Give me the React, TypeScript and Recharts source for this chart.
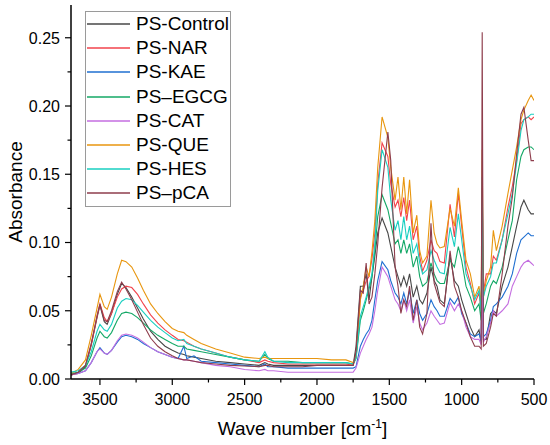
import React from 'react';
import { LineChart, Line, XAxis, YAxis, Legend } from 'recharts';

const wavenumbers = [
  3700, 3650, 3600, 3560, 3520, 3500, 3470, 3450, 3420, 3380,
  3350, 3320, 3280, 3240, 3200, 3150, 3100, 3050, 3000, 2960,
  2920, 2900, 2850, 2800, 2700, 2600, 2500, 2400, 2360, 2340,
  2300, 2200, 2100, 2000, 1900, 1800, 1750, 1730, 1700, 1680,
  1660, 1640, 1620, 1600, 1580, 1550, 1510, 1490, 1460, 1440,
  1420, 1400, 1380, 1360, 1335, 1310, 1290, 1270, 1240, 1212,
  1190, 1170, 1150, 1120, 1080, 1050, 1023, 1000, 970, 940,
  910, 880, 865, 858, 850, 830, 800, 781, 760, 720,
  680, 650, 620, 590, 570, 540, 520, 500,
];

const psControl = [
  0.003, 0.004, 0.009, 0.025, 0.045, 0.054, 0.042, 0.040, 0.048, 0.062,
  0.070, 0.067, 0.060, 0.052, 0.044, 0.035, 0.029, 0.024, 0.021, 0.019,
  0.018, 0.017, 0.016, 0.015, 0.013, 0.012, 0.011, 0.010, 0.012, 0.011,
  0.010, 0.010, 0.010, 0.010, 0.010, 0.010, 0.010, 0.024, 0.068, 0.068,
  0.077, 0.058, 0.075, 0.090, 0.107, 0.118, 0.107, 0.097, 0.082, 0.075,
  0.068, 0.075, 0.068, 0.077, 0.060, 0.068, 0.058, 0.055, 0.063, 0.082,
  0.072, 0.068, 0.058, 0.055, 0.090, 0.072, 0.068, 0.058, 0.048, 0.038,
  0.031, 0.036, 0.026, 0.100, 0.029, 0.029, 0.048, 0.050, 0.048, 0.068,
  0.082, 0.097, 0.112, 0.126, 0.131, 0.124, 0.121, 0.121,
];

const psNAR = [
  0.003, 0.005, 0.010, 0.025, 0.046, 0.055, 0.045, 0.042, 0.048, 0.060,
  0.066, 0.068, 0.067, 0.062, 0.055, 0.047, 0.041, 0.036, 0.032, 0.029,
  0.028, 0.027, 0.024, 0.022, 0.019, 0.016, 0.014, 0.012, 0.014, 0.013,
  0.012, 0.011, 0.011, 0.011, 0.011, 0.011, 0.010, 0.016, 0.060, 0.065,
  0.072, 0.075, 0.088, 0.107, 0.143, 0.173, 0.163, 0.143, 0.126, 0.131,
  0.119, 0.133, 0.116, 0.131, 0.102, 0.112, 0.090, 0.079, 0.087, 0.102,
  0.094, 0.092, 0.086, 0.085, 0.128, 0.104, 0.136, 0.112, 0.082, 0.070,
  0.055, 0.063, 0.050, 0.140, 0.063, 0.077, 0.077, 0.090, 0.087, 0.102,
  0.126, 0.141, 0.160, 0.187, 0.190, 0.192, 0.190, 0.192,
];

const psKAE = [
  0.004, 0.004, 0.006, 0.012, 0.020, 0.023, 0.019, 0.018, 0.021, 0.027,
  0.031, 0.032, 0.031, 0.029, 0.026, 0.023, 0.020, 0.018, 0.016, 0.015,
  0.024, 0.015, 0.017, 0.013, 0.012, 0.011, 0.010, 0.009, 0.011, 0.009,
  0.009, 0.008, 0.008, 0.008, 0.008, 0.008, 0.008, 0.009, 0.024, 0.029,
  0.033, 0.036, 0.043, 0.058, 0.072, 0.086, 0.080, 0.072, 0.063, 0.060,
  0.055, 0.063, 0.055, 0.065, 0.048, 0.058, 0.048, 0.043, 0.048, 0.058,
  0.053, 0.050, 0.046, 0.046, 0.059, 0.055, 0.060, 0.048, 0.041, 0.033,
  0.031, 0.033, 0.028, 0.120, 0.031, 0.033, 0.043, 0.053, 0.055, 0.060,
  0.068, 0.077, 0.092, 0.102, 0.104, 0.107, 0.105, 0.105,
];

const psEGCG = [
  0.004, 0.005, 0.008, 0.017, 0.030, 0.035, 0.031, 0.030, 0.034, 0.043,
  0.048, 0.049, 0.048, 0.045, 0.041, 0.036, 0.032, 0.029, 0.026, 0.024,
  0.024, 0.022, 0.021, 0.020, 0.018, 0.016, 0.014, 0.013, 0.018, 0.015,
  0.013, 0.013, 0.012, 0.012, 0.012, 0.012, 0.011, 0.015, 0.043, 0.050,
  0.058, 0.066, 0.075, 0.094, 0.119, 0.135, 0.124, 0.114, 0.099, 0.102,
  0.092, 0.102, 0.092, 0.099, 0.082, 0.090, 0.075, 0.068, 0.071, 0.085,
  0.077, 0.072, 0.070, 0.070, 0.087, 0.082, 0.097, 0.087, 0.068, 0.060,
  0.050, 0.055, 0.043, 0.120, 0.048, 0.055, 0.068, 0.072, 0.070, 0.082,
  0.102, 0.116, 0.146, 0.163, 0.168, 0.170, 0.170, 0.168,
];

const psCAT = [
  0.003, 0.004, 0.006, 0.012, 0.020, 0.022, 0.019, 0.018, 0.021, 0.028,
  0.032, 0.033, 0.032, 0.030, 0.027, 0.023, 0.020, 0.018, 0.016, 0.015,
  0.014, 0.014, 0.013, 0.012, 0.010, 0.009, 0.007, 0.006, 0.007, 0.006,
  0.006, 0.005, 0.005, 0.005, 0.005, 0.005, 0.005, 0.008, 0.019, 0.024,
  0.029, 0.033, 0.038, 0.050, 0.065, 0.082, 0.075, 0.068, 0.058, 0.055,
  0.050, 0.058, 0.050, 0.058, 0.041, 0.053, 0.041, 0.036, 0.041, 0.050,
  0.046, 0.043, 0.040, 0.041, 0.056, 0.050, 0.055, 0.050, 0.038, 0.031,
  0.029, 0.029, 0.025, 0.080, 0.027, 0.031, 0.041, 0.050, 0.046, 0.050,
  0.055, 0.068, 0.075, 0.082, 0.085, 0.087, 0.085, 0.083,
];

const psQUE = [
  0.004, 0.007, 0.014, 0.032, 0.052, 0.062, 0.053, 0.051, 0.060, 0.077,
  0.087, 0.086, 0.082, 0.074, 0.065, 0.055, 0.048, 0.042, 0.037, 0.035,
  0.034, 0.032, 0.029, 0.026, 0.022, 0.019, 0.016, 0.015, 0.016, 0.015,
  0.015, 0.015, 0.015, 0.015, 0.014, 0.014, 0.012, 0.016, 0.058, 0.068,
  0.082, 0.075, 0.093, 0.116, 0.155, 0.192, 0.177, 0.155, 0.131, 0.148,
  0.124, 0.148, 0.121, 0.146, 0.107, 0.120, 0.094, 0.085, 0.090, 0.131,
  0.107, 0.099, 0.096, 0.097, 0.125, 0.112, 0.140, 0.116, 0.087, 0.077,
  0.060, 0.068, 0.053, 0.168, 0.060, 0.072, 0.082, 0.109, 0.094, 0.112,
  0.136, 0.153, 0.170, 0.190, 0.197, 0.204, 0.208, 0.204,
];

const psHES = [
  0.005, 0.006, 0.010, 0.020, 0.035, 0.040, 0.036, 0.035, 0.040, 0.052,
  0.057, 0.059, 0.058, 0.054, 0.049, 0.043, 0.038, 0.034, 0.030, 0.028,
  0.029, 0.026, 0.024, 0.022, 0.019, 0.016, 0.014, 0.013, 0.020, 0.016,
  0.013, 0.012, 0.012, 0.012, 0.012, 0.012, 0.011, 0.016, 0.046, 0.053,
  0.060, 0.068, 0.077, 0.099, 0.138, 0.168, 0.155, 0.131, 0.109, 0.116,
  0.102, 0.119, 0.102, 0.112, 0.092, 0.099, 0.085, 0.077, 0.080, 0.094,
  0.087, 0.082, 0.078, 0.077, 0.111, 0.097, 0.121, 0.102, 0.077, 0.068,
  0.058, 0.065, 0.050, 0.148, 0.060, 0.068, 0.075, 0.085, 0.085, 0.102,
  0.121, 0.136, 0.158, 0.182, 0.190, 0.192, 0.194, 0.194,
];

const psPCA = [
  0.003, 0.005, 0.010, 0.026, 0.046, 0.055, 0.043, 0.042, 0.050, 0.064,
  0.071, 0.066, 0.058, 0.049, 0.040, 0.030, 0.024, 0.020, 0.017, 0.015,
  0.014, 0.014, 0.013, 0.012, 0.011, 0.010, 0.0095, 0.009, 0.010, 0.010,
  0.009, 0.009, 0.009, 0.010, 0.010, 0.010, 0.010, 0.020, 0.065, 0.063,
  0.085, 0.055, 0.060, 0.077, 0.099, 0.140, 0.181, 0.160, 0.082, 0.068,
  0.048, 0.058, 0.053, 0.068, 0.043, 0.058, 0.038, 0.033, 0.048, 0.114,
  0.070, 0.063, 0.056, 0.053, 0.094, 0.068, 0.060, 0.050, 0.041, 0.031,
  0.024, 0.024, 0.022, 0.254, 0.024, 0.026, 0.038, 0.048, 0.046, 0.077,
  0.112, 0.133, 0.165, 0.194, 0.199, 0.175, 0.160, 0.160,
];

const xTicks = [3500, 3250, 3000, 2750, 2500, 2250, 2000, 1750, 1500, 1250, 1000, 750, 500];
const yTicks = [0, 0.025, 0.05, 0.075, 0.1, 0.125, 0.15, 0.175, 0.2, 0.225, 0.25];

const series = [
  { key: 'control', name: 'PS-Control', color: '#474747', values: psControl },
  { key: 'nar', name: 'PS-NAR', color: '#f2434c', values: psNAR },
  { key: 'kae', name: 'PS-KAE', color: '#1f6fd1', values: psKAE },
  { key: 'egcg', name: 'PS\u2013EGCG', color: '#14a866', values: psEGCG },
  { key: 'cat', name: 'PS-CAT', color: '#c46ee0', values: psCAT },
  { key: 'que', name: 'PS-QUE', color: '#e8960f', values: psQUE },
  { key: 'hes', name: 'PS-HES', color: '#19cfc0', values: psHES },
  { key: 'pca', name: 'PS\u2013pCA', color: '#8e3d4c', values: psPCA },
];

const chartData = wavenumbers.map((wn, i) => {
  const row: Record<string, number> = { wn };
  series.forEach(s => { row[s.key] = s.values[i]; });
  return row;
});

const FONT = 'Arial, "Liberation Sans", sans-serif';

const XTick = ({ x, y, payload }: any) => {
  const major = payload.value % 500 === 0;
  return (
    <g>
      <line x1={x} y1={y} x2={x} y2={y + (major ? 6 : 3.5)} stroke="#000" strokeWidth={1.2} />
      {major && (
        <text x={x} y={y + 26} textAnchor="middle" fontSize={16} fontFamily={FONT} fill="#000">
          {payload.value}
        </text>
      )}
    </g>
  );
};

const YTick = ({ x, y, payload }: any) => {
  const major = Math.round(payload.value * 1000) % 50 === 0;
  return (
    <g>
      <line x1={x - (major ? 6 : 3.5)} y1={y} x2={x} y2={y} stroke="#000" strokeWidth={1.2} />
      {major && (
        <text x={x - 11} y={y + 5.8} textAnchor="end" fontSize={16} fontFamily={FONT} fill="#000">
          {payload.value.toFixed(2)}
        </text>
      )}
    </g>
  );
};

const XTitle = ({ viewBox }: any) => {
  const cx = viewBox.x + viewBox.width / 2;
  return (
    <text x={cx} y={viewBox.y + 56} textAnchor="middle" fontSize={19} fontFamily={FONT} fill="#000">
      Wave number [cm<tspan dy={-7} fontSize={12}>-1</tspan><tspan dy={7}>]</tspan>
    </text>
  );
};

const YTitle = ({ viewBox }: any) => {
  const cy = viewBox.y + viewBox.height / 2;
  return (
    <text
      x={21.5}
      y={cy}
      transform={`rotate(-90, 21.5, ${cy})`}
      textAnchor="middle"
      fontSize={19}
      fontFamily={FONT}
      fill="#000"
    >
      Absorbance
    </text>
  );
};

const LegendBox = () => (
  <div
    style={{
      border: '1px solid #9a9a9a',
      background: '#fff',
      width: 146,
      boxSizing: 'border-box',
      fontFamily: FONT,
    }}
  >
    {series.map(s => (
      <div key={s.key} style={{ display: 'flex', alignItems: 'center', height: 24.2 }}>
        <svg width={44} height={24} style={{ flex: 'none' }}>
          <line x1={1} y1={12} x2={44} y2={12} stroke={s.color} strokeWidth={1.5} />
        </svg>
        <span style={{ marginLeft: 6, fontSize: 19, lineHeight: '24px', color: '#000', whiteSpace: 'nowrap' }}>
          {s.name}
        </span>
      </div>
    ))}
  </div>
);

export default function App() {
  return (
    <div style={{ position: 'absolute', left: 0, top: 0, background: '#fff' }}>
      <LineChart width={550} height={445} data={chartData} margin={{ top: 5, right: 16, bottom: 0, left: 0 }}>
        <XAxis
          xAxisId="main"
          type="number"
          dataKey="wn"
          domain={[500, 3700]}
          reversed
          allowDataOverflow
          ticks={xTicks}
          interval={0}
          tickSize={0}
          tickMargin={0}
          tickLine={false}
          tick={<XTick />}
          height={66}
          axisLine={{ stroke: '#000', strokeWidth: 1.5 }}
          label={{ content: <XTitle /> }}
        />
        <XAxis
          xAxisId="top"
          orientation="top"
          type="number"
          domain={[500, 3700]}
          reversed
          tick={false}
          tickLine={false}
          height={0}
          axisLine={{ stroke: '#000', strokeWidth: 1.5 }}
        />
        <YAxis
          yAxisId="main"
          type="number"
          domain={[0, 0.274]}
          allowDataOverflow
          ticks={yTicks}
          interval={0}
          tickSize={0}
          tickMargin={0}
          tickLine={false}
          tick={<YTick />}
          width={71}
          axisLine={{ stroke: '#000', strokeWidth: 1.5 }}
          label={{ content: <YTitle /> }}
        />
        <YAxis
          yAxisId="right"
          orientation="right"
          type="number"
          domain={[0, 0.274]}
          tick={false}
          tickLine={false}
          width={0}
          axisLine={{ stroke: '#000', strokeWidth: 1.5 }}
        />
        <Legend
          layout="vertical"
          align="center"
          verticalAlign="middle"
          content={<LegendBox />}
          wrapperStyle={{ position: 'absolute', left: 85, top: 11, width: 'auto', margin: 0 }}
        />
        {series.map(s => (
          <Line
            key={s.key}
            xAxisId="main"
            yAxisId="main"
            type="linear"
            dataKey={s.key}
            name={s.name}
            stroke={s.color}
            strokeWidth={1.1}
            dot={false}
            activeDot={false}
            isAnimationActive={false}
          />
        ))}
      </LineChart>
    </div>
  );
}
